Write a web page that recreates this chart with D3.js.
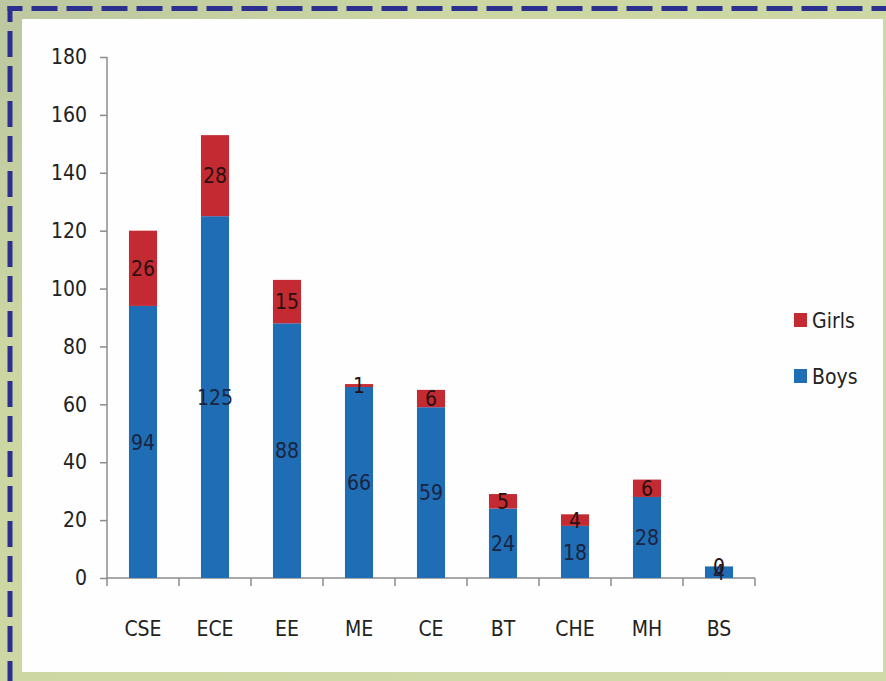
<!DOCTYPE html>
<html><head><meta charset="utf-8">
<script src="https://cdn.jsdelivr.net/npm/d3@7"></script>
<style>html,body{margin:0;padding:0;background:#cdd8a5;}svg{display:block;}text{font-stretch:condensed;}</style>
</head><body>
<svg id="c" width="886" height="681"></svg>
<script>
const categories = ["CSE","ECE","EE","ME","CE","BT","CHE","MH","BS"];
const boys  = [94,125,88,66,59,24,18,28,4];
const girls = [26,28,15,1,6,5,4,6,0];
const yTicks = [0,20,40,60,80,100,120,140,160,180];
const seriesNames = ["Boys","Girls"];
const colors = {Boys:"#1f6db4", Girls:"#c42a32"};
const labelColors = {Boys:"#1b2440", Girls:"#2a1010"};
const FONT = "'DejaVu Sans Condensed', 'DejaVu Sans', sans-serif";
const FS = 21;

const svg = d3.select("#c");
const defs = svg.append("defs");
const g1 = defs.append("linearGradient").attr("id","bg").attr("x1","0").attr("y1","0").attr("x2","1").attr("y2","1");
g1.append("stop").attr("offset","0").attr("stop-color","#bcc6a0");
g1.append("stop").attr("offset","0.25").attr("stop-color","#cbd6a3");
g1.append("stop").attr("offset","1").attr("stop-color","#d0daa8");
svg.append("rect").attr("width",886).attr("height",681).attr("fill","url(#bg)");

// white panel
svg.append("rect").attr("x",22).attr("y",19).attr("width",861).attr("height",653).attr("fill","#fefefe");

// dashed border
svg.append("path").attr("d","M7.5,8.5H900").attr("stroke","#2b3090").attr("stroke-width",5)
  .attr("fill","none").attr("stroke-dasharray","26 9").attr("stroke-dashoffset",11);
svg.append("path").attr("d","M10,6V700").attr("stroke","#2b3090").attr("stroke-width",5)
  .attr("fill","none").attr("stroke-dasharray","26 9").attr("stroke-dashoffset",10);

const y = d3.scaleLinear().domain([0,180]).range([578,57]);
const xSlots = d3.scaleBand().domain(categories).range([107,755]).padding(0);
const x = d3.scaleBand().domain(categories).range([107,755]).paddingInner(0.61).paddingOuter(0.305);

// y axis
const yAxis = svg.append("g").attr("transform","translate(107,0)")
  .call(d3.axisLeft(y).tickValues(yTicks).tickSize(7).tickPadding(13).tickFormat(d3.format("d")));
yAxis.select(".domain").attr("stroke","#8c8c8c").attr("stroke-width",1.5).attr("d","M0,57V578");
yAxis.selectAll(".tick line").attr("stroke","#8c8c8c").attr("stroke-width",1.5);
yAxis.selectAll(".tick text").attr("font-family",FONT).attr("font-size",FS).attr("fill","#222");

// x axis line and boundary ticks
const xg = svg.append("g");
xg.append("line").attr("x1",107).attr("x2",755).attr("y1",y(0)).attr("y2",y(0))
  .attr("stroke","#8c8c8c").attr("stroke-width",1.5);
const bounds = categories.map(c => xSlots(c)).concat([xSlots(categories[categories.length-1]) + xSlots.bandwidth()]);
xg.selectAll("line.b").data(bounds).join("line").attr("class","b")
  .attr("x1",d=>d).attr("x2",d=>d).attr("y1",y(0)).attr("y2",y(0)+8)
  .attr("stroke","#8c8c8c").attr("stroke-width",1.5);
xg.selectAll("text").data(categories).join("text")
  .attr("x",d=>xSlots(d)+xSlots.bandwidth()/2).attr("y",636)
  .attr("text-anchor","middle").attr("font-family",FONT).attr("font-size",FS).attr("fill","#222")
  .text(d=>d);

// stacked bars
const table = categories.map((c,i)=>({cat:c, Boys:boys[i], Girls:girls[i]}));
const stack = d3.stack().keys(seriesNames)(table);
const layers = svg.append("g").selectAll("g").data(stack).join("g")
  .attr("fill",d=>colors[d.key]);
layers.selectAll("rect").data(d=>d).join("rect")
  .attr("x",d=>x(d.data.cat)).attr("width",x.bandwidth())
  .attr("y",d=>y(d[1])).attr("height",d=>y(d[0])-y(d[1]));

// data labels
const lab = svg.append("g");
stack.forEach(layer=>{
  lab.selectAll(null).data(layer).join("text")
    .attr("x",d=>x(d.data.cat)+x.bandwidth()/2)
    .attr("y",d=>y((d[0]+d[1])/2))
    .attr("dy","0.36em")
    .attr("text-anchor","middle").attr("font-family",FONT).attr("font-size",FS)
    .attr("fill",labelColors[layer.key])
    .text(d=>d.data[layer.key]);
});

// legend
const legendItems = ["Girls","Boys"];
const leg = svg.append("g");
legendItems.forEach((k,i)=>{
  const yy = 320 + i*56;
  leg.append("rect").attr("x",794).attr("y",yy-7).attr("width",13).attr("height",14).attr("fill",colors[k]);
  leg.append("text").attr("x",812).attr("y",yy).attr("dy","0.36em")
    .attr("font-family",FONT).attr("font-size",FS).attr("fill","#222").text(k);
});
</script>
</body></html>
